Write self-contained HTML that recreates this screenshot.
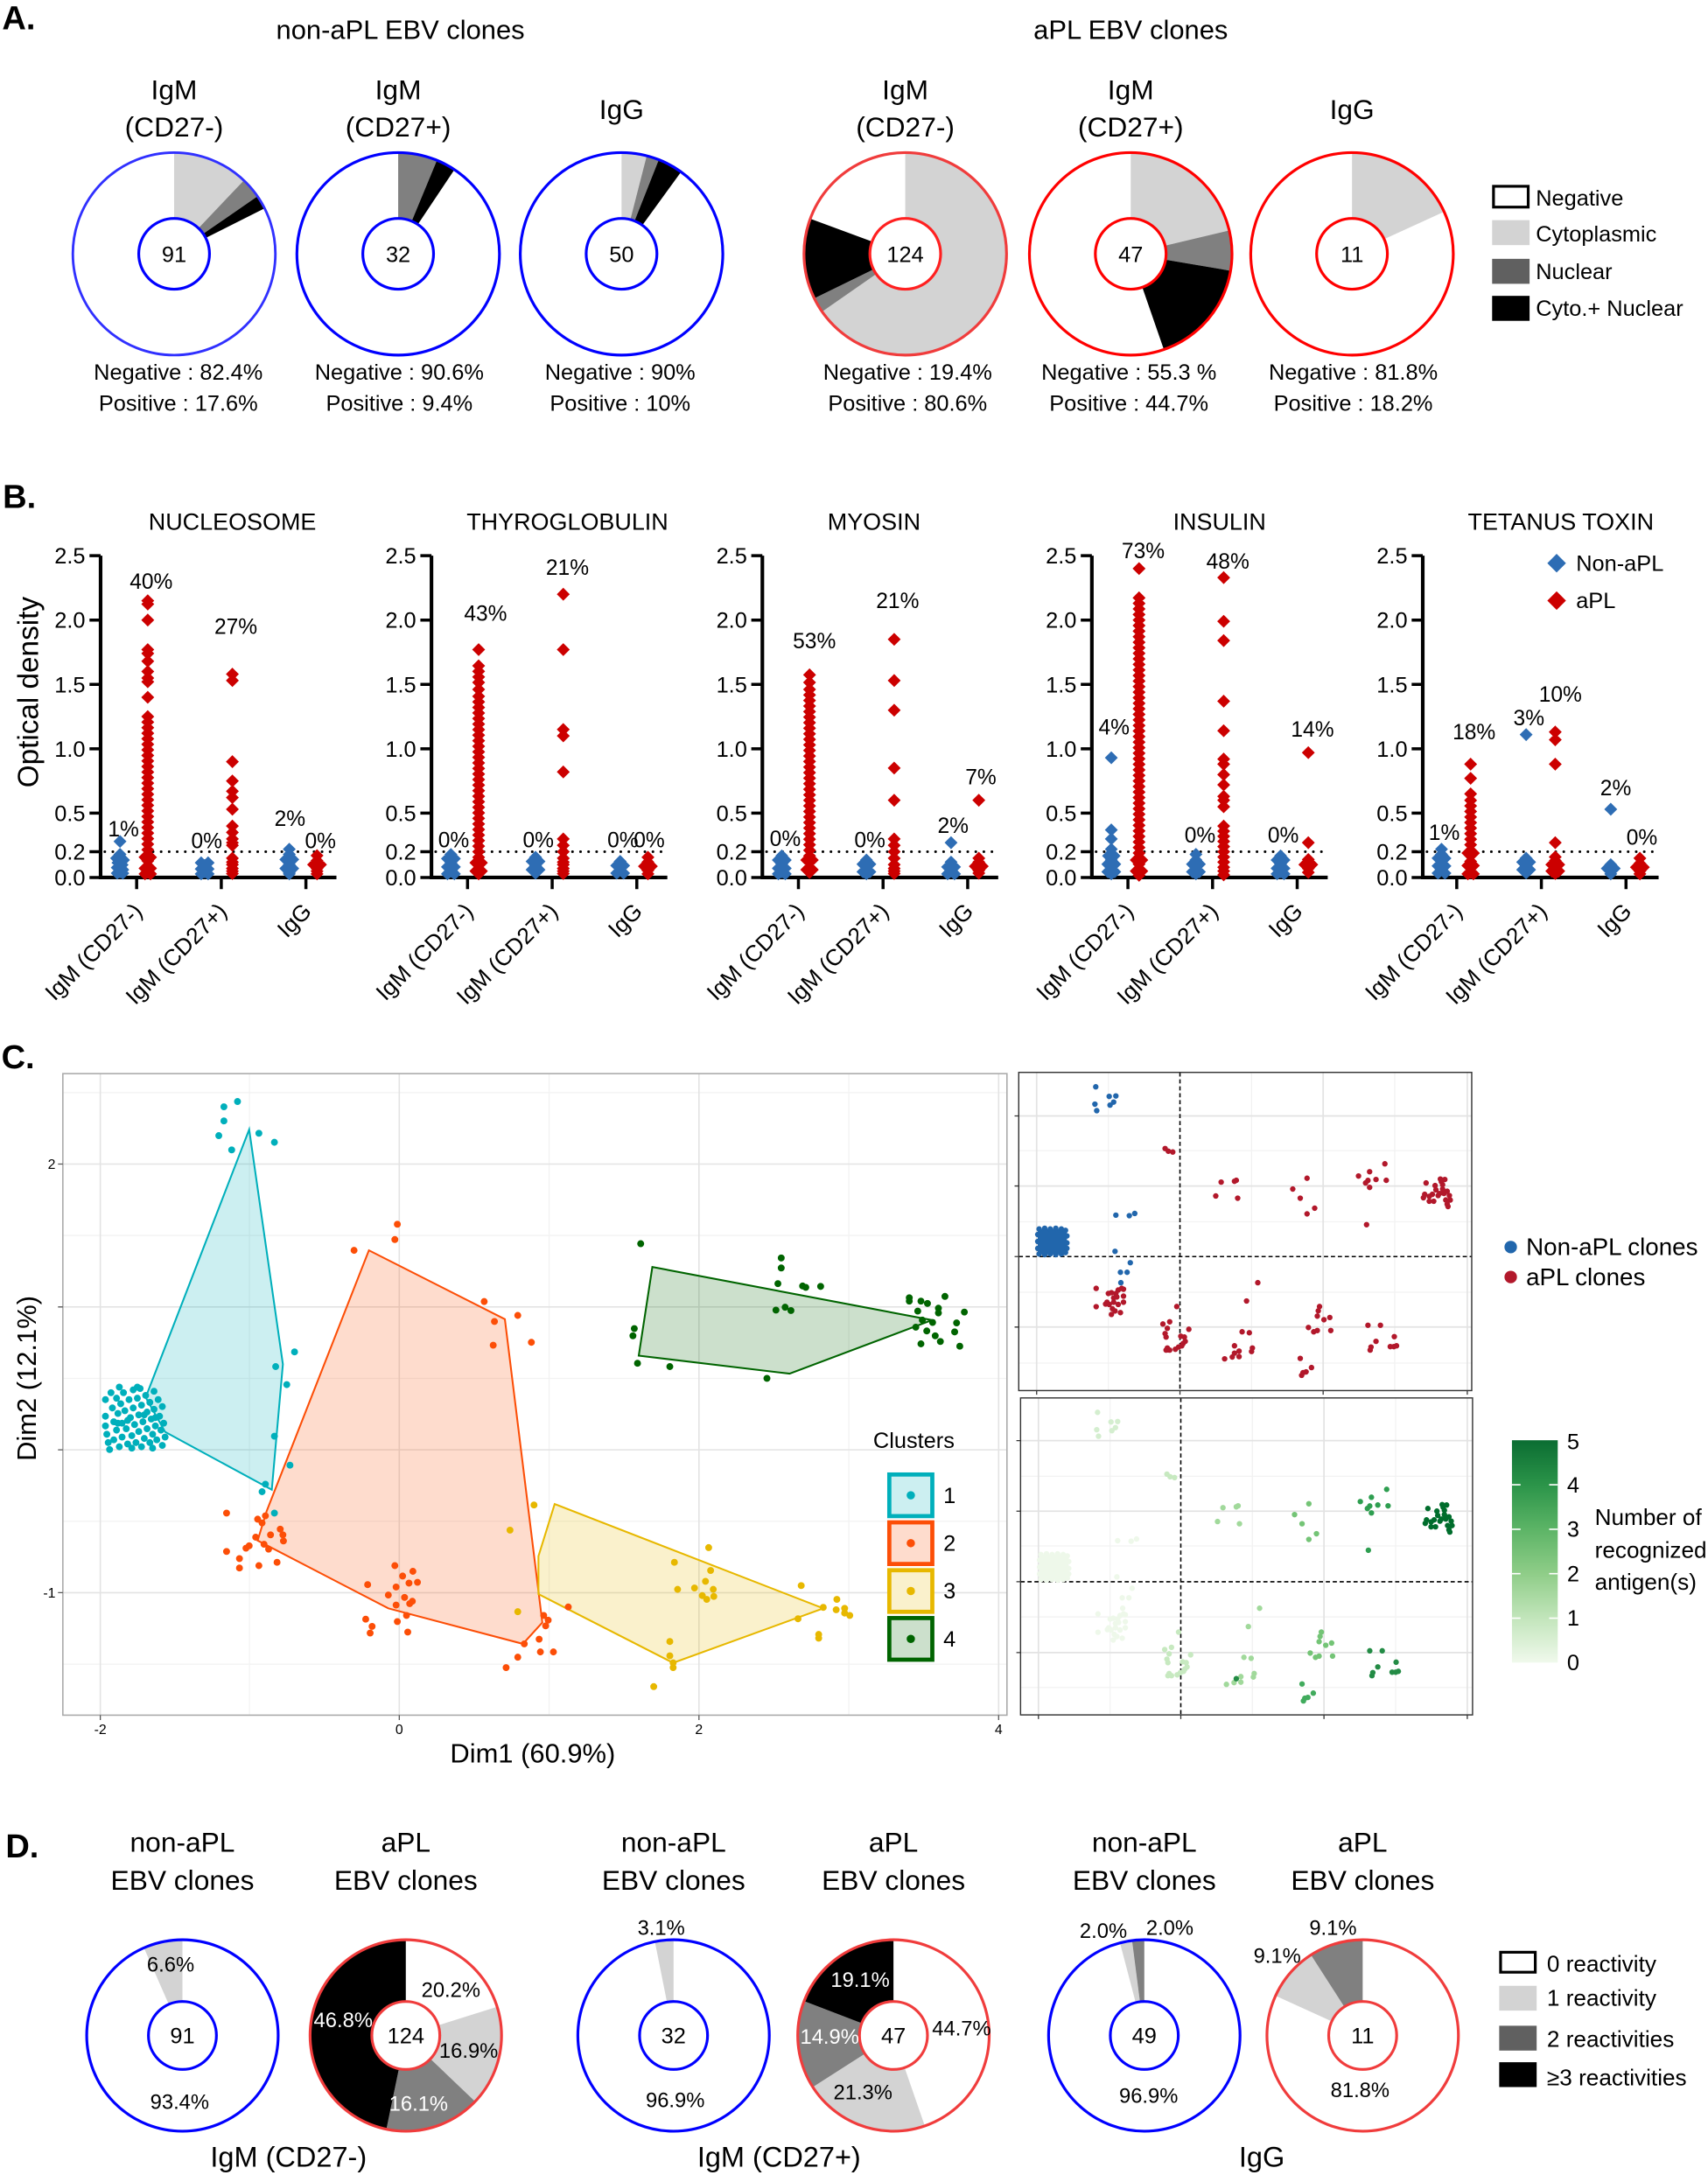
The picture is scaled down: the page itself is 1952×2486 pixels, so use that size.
<!DOCTYPE html>
<html><head><meta charset="utf-8">
<style>
html,body{margin:0;padding:0;background:#fff}
svg{display:block}
text{font-family:"Liberation Sans",sans-serif;fill:#000}
</style></head>
<body>
<svg xmlns="http://www.w3.org/2000/svg" width="1952" height="2486" viewBox="0 0 1231.1 1568" preserveAspectRatio="none">
<rect x="0" y="0" width="1231.1" height="1568" fill="#fff"/>
<defs>
<linearGradient id="cb" x1="0" y1="0" x2="0" y2="1">
<stop offset="0" stop-color="#0b6d32"/><stop offset="0.2" stop-color="#2b9449"/><stop offset="0.4" stop-color="#5cb466"/><stop offset="0.6" stop-color="#8fcd88"/><stop offset="0.8" stop-color="#c2e5bb"/><stop offset="1" stop-color="#f0f9ec"/>
</linearGradient>
</defs>

<!-- ================= PANEL A ================= -->
<text x="1.5" y="21" font-size="24" font-weight="bold">A.</text>
<text x="288.6" y="28" font-size="19.5" text-anchor="middle">non-aPL EBV clones</text>
<text x="815" y="28" font-size="19.5" text-anchor="middle">aPL EBV clones</text>
<g font-size="20" text-anchor="middle">
<text x="125.5" y="71.5">IgM</text><text x="125.5" y="98.5">(CD27-)</text>
<text x="287" y="71.5">IgM</text><text x="287" y="98.5">(CD27+)</text>
<text x="448" y="85.7">IgG</text>
<text x="652.5" y="71.5">IgM</text><text x="652.5" y="98.5">(CD27-)</text>
<text x="815" y="71.5">IgM</text><text x="815" y="98.5">(CD27+)</text>
<text x="974.5" y="85.7">IgG</text>
</g>
<!-- pie 1 -->
<path d="M125.5 183L125.5 110A73 73 0 0 1 175.75 130.05Z" fill="#d3d3d3"/>
<path d="M125.5 183L175.75 130.05A73 73 0 0 1 185.59 141.55Z" fill="#808080"/>
<path d="M125.5 183L185.59 141.55A73 73 0 0 1 190.72 150.2Z" fill="#000"/>
<circle cx="125.5" cy="183" r="73" fill="none" stroke="#3030ff" stroke-width="1.8"/>
<circle cx="125.5" cy="183" r="25.5" fill="#fff" stroke="#0000ff" stroke-width="2"/>
<!-- pie 2 -->
<path d="M287 183L287 110A73 73 0 0 1 314.94 115.56Z" fill="#808080"/>
<path d="M287 183L314.94 115.56A73 73 0 0 1 327.56 122.3Z" fill="#000"/>
<circle cx="287" cy="183" r="73" fill="none" stroke="#0000ff" stroke-width="2"/>
<circle cx="287" cy="183" r="25.5" fill="#fff" stroke="#0000ff" stroke-width="2"/>
<!-- pie 3 -->
<path d="M448 183L448 110A73 73 0 0 1 466.16 112.29Z" fill="#d3d3d3"/>
<path d="M448 183L466.16 112.29A73 73 0 0 1 474.87 115.12Z" fill="#808080"/>
<path d="M448 183L474.87 115.12A73 73 0 0 1 490.91 123.94Z" fill="#000"/>
<circle cx="448" cy="183" r="73" fill="none" stroke="#0000ff" stroke-width="2"/>
<circle cx="448" cy="183" r="25.5" fill="#fff" stroke="#0000ff" stroke-width="2"/>
<!-- pie 4 -->
<path d="M652.5 183L652.5 110A73 73 0 1 1 592.56 224.66Z" fill="#d3d3d3"/>
<path d="M652.5 183L592.56 224.66A73 73 0 0 1 586.95 215.11Z" fill="#808080"/>
<path d="M652.5 183L586.95 215.11A73 73 0 0 1 584.03 157.68Z" fill="#000"/>
<circle cx="652.5" cy="183" r="73" fill="none" stroke="#f03c3c" stroke-width="2"/>
<circle cx="652.5" cy="183" r="25.5" fill="#fff" stroke="#ff2020" stroke-width="2"/>
<!-- pie 5 -->
<path d="M815 183L815 110A73 73 0 0 1 886.01 166.09Z" fill="#d3d3d3"/>
<path d="M815 183L886.01 166.09A73 73 0 0 1 886.98 195.18Z" fill="#808080"/>
<path d="M815 183L886.98 195.18A73 73 0 0 1 838.89 251.98Z" fill="#000"/>
<circle cx="815" cy="183" r="73" fill="none" stroke="#ff0000" stroke-width="2"/>
<circle cx="815" cy="183" r="25.5" fill="#fff" stroke="#ff0000" stroke-width="2"/>
<!-- pie 6 -->
<path d="M974.5 183L974.5 110A73 73 0 0 1 1040.9 152.66Z" fill="#d3d3d3"/>
<circle cx="974.5" cy="183" r="73" fill="none" stroke="#ff0000" stroke-width="2"/>
<circle cx="974.5" cy="183" r="25.5" fill="#fff" stroke="#ff0000" stroke-width="2"/>
<g font-size="16" text-anchor="middle">
<text x="125.5" y="189">91</text><text x="287" y="189">32</text><text x="448" y="189">50</text>
<text x="652.5" y="189">124</text><text x="815" y="189">47</text><text x="974.5" y="189">11</text>
</g>
<g font-size="16" text-anchor="middle">
<text x="128.5" y="273.7">Negative : 82.4%</text><text x="128.5" y="296">Positive : 17.6%</text>
<text x="287.8" y="273.7">Negative : 90.6%</text><text x="287.8" y="296">Positive : 9.4%</text>
<text x="447" y="273.7">Negative : 90%</text><text x="447" y="296">Positive : 10%</text>
<text x="654.2" y="273.7">Negative : 19.4%</text><text x="654.2" y="296">Positive : 80.6%</text>
<text x="813.7" y="273.7">Negative : 55.3 %</text><text x="813.7" y="296">Positive : 44.7%</text>
<text x="975.4" y="273.7">Negative : 81.8%</text><text x="975.4" y="296">Positive : 18.2%</text>
</g>
<!-- legend A -->
<rect x="1076.5" y="134.3" width="25" height="15" fill="#fff" stroke="#000" stroke-width="2"/>
<rect x="1075.5" y="158.7" width="27" height="18" fill="#d3d3d3"/>
<rect x="1075.5" y="186.6" width="27" height="18" fill="#606060"/>
<rect x="1075.5" y="213.3" width="27" height="18" fill="#000"/>
<g font-size="16">
<text x="1107" y="148.3">Negative</text>
<text x="1107" y="174.2">Cytoplasmic</text>
<text x="1107" y="201.2">Nuclear</text>
<text x="1107" y="227.7">Cyto.+ Nuclear</text>
</g>

<!-- ================= PANEL B ================= -->
<text x="2" y="366" font-size="24" font-weight="bold">B.</text>
<g font-size="17" text-anchor="middle">
<text x="167.5" y="382">NUCLEOSOME</text>
<text x="409" y="382">THYROGLOBULIN</text>
<text x="630" y="382">MYOSIN</text>
<text x="879" y="382">INSULIN</text>
<text x="1125" y="382">TETANUS TOXIN</text>
</g>
<text transform="translate(27.5 499) rotate(-90)" font-size="21" text-anchor="middle">Optical density</text>

<g transform="translate(72.5 0)">
<path d="M0 400.6V632.6H170" fill="none" stroke="#000" stroke-width="2.6"/>
<path d="M-8 400.6H0M-8 447H0M-8 493.4H0M-8 539.8H0M-8 586.2H0M-8 614H0M-8 632.6H0M26 632.6V641M87 632.6V641M148 632.6V641" stroke="#000" stroke-width="2.2"/>
<line x1="3" y1="614" x2="170" y2="614" stroke="#000" stroke-width="1.8" stroke-dasharray="0.1 5.7" stroke-linecap="round"/>
<g font-size="16" text-anchor="end"><text x="-11" y="406.3">2.5</text><text x="-11" y="452.7">2.0</text><text x="-11" y="499.1">1.5</text><text x="-11" y="545.5">1.0</text><text x="-11" y="591.9">0.5</text><text x="-11" y="619.8">0.2</text><text x="-11" y="638.3">0.0</text></g>
<g font-size="16.5" text-anchor="end"><text transform="translate(31 658) rotate(-45)">IgM (CD27-)</text><text transform="translate(92 658) rotate(-45)">IgM (CD27+)</text><text transform="translate(153 658) rotate(-45)">IgG</text></g>
</g>
<g transform="translate(311 0)">
<path d="M0 400.6V632.6H170" fill="none" stroke="#000" stroke-width="2.6"/>
<path d="M-8 400.6H0M-8 447H0M-8 493.4H0M-8 539.8H0M-8 586.2H0M-8 614H0M-8 632.6H0M26 632.6V641M87 632.6V641M148 632.6V641" stroke="#000" stroke-width="2.2"/>
<line x1="3" y1="614" x2="170" y2="614" stroke="#000" stroke-width="1.8" stroke-dasharray="0.1 5.7" stroke-linecap="round"/>
<g font-size="16" text-anchor="end"><text x="-11" y="406.3">2.5</text><text x="-11" y="452.7">2.0</text><text x="-11" y="499.1">1.5</text><text x="-11" y="545.5">1.0</text><text x="-11" y="591.9">0.5</text><text x="-11" y="619.8">0.2</text><text x="-11" y="638.3">0.0</text></g>
<g font-size="16.5" text-anchor="end"><text transform="translate(31 658) rotate(-45)">IgM (CD27-)</text><text transform="translate(92 658) rotate(-45)">IgM (CD27+)</text><text transform="translate(153 658) rotate(-45)">IgG</text></g>
</g>
<g transform="translate(549.5 0)">
<path d="M0 400.6V632.6H170" fill="none" stroke="#000" stroke-width="2.6"/>
<path d="M-8 400.6H0M-8 447H0M-8 493.4H0M-8 539.8H0M-8 586.2H0M-8 614H0M-8 632.6H0M26 632.6V641M87 632.6V641M148 632.6V641" stroke="#000" stroke-width="2.2"/>
<line x1="3" y1="614" x2="170" y2="614" stroke="#000" stroke-width="1.8" stroke-dasharray="0.1 5.7" stroke-linecap="round"/>
<g font-size="16" text-anchor="end"><text x="-11" y="406.3">2.5</text><text x="-11" y="452.7">2.0</text><text x="-11" y="499.1">1.5</text><text x="-11" y="545.5">1.0</text><text x="-11" y="591.9">0.5</text><text x="-11" y="619.8">0.2</text><text x="-11" y="638.3">0.0</text></g>
<g font-size="16.5" text-anchor="end"><text transform="translate(31 658) rotate(-45)">IgM (CD27-)</text><text transform="translate(92 658) rotate(-45)">IgM (CD27+)</text><text transform="translate(153 658) rotate(-45)">IgG</text></g>
</g>
<g transform="translate(787 0)">
<path d="M0 400.6V632.6H170" fill="none" stroke="#000" stroke-width="2.6"/>
<path d="M-8 400.6H0M-8 447H0M-8 493.4H0M-8 539.8H0M-8 586.2H0M-8 614H0M-8 632.6H0M26 632.6V641M87 632.6V641M148 632.6V641" stroke="#000" stroke-width="2.2"/>
<line x1="3" y1="614" x2="170" y2="614" stroke="#000" stroke-width="1.8" stroke-dasharray="0.1 5.7" stroke-linecap="round"/>
<g font-size="16" text-anchor="end"><text x="-11" y="406.3">2.5</text><text x="-11" y="452.7">2.0</text><text x="-11" y="499.1">1.5</text><text x="-11" y="545.5">1.0</text><text x="-11" y="591.9">0.5</text><text x="-11" y="619.8">0.2</text><text x="-11" y="638.3">0.0</text></g>
<g font-size="16.5" text-anchor="end"><text transform="translate(31 658) rotate(-45)">IgM (CD27-)</text><text transform="translate(92 658) rotate(-45)">IgM (CD27+)</text><text transform="translate(153 658) rotate(-45)">IgG</text></g>
</g>
<g transform="translate(1025.5 0)">
<path d="M0 400.6V632.6H170" fill="none" stroke="#000" stroke-width="2.6"/>
<path d="M-8 400.6H0M-8 447H0M-8 493.4H0M-8 539.8H0M-8 586.2H0M-8 614H0M-8 632.6H0M24.5 632.6V641M85.5 632.6V641M146.5 632.6V641" stroke="#000" stroke-width="2.2"/>
<line x1="3" y1="614" x2="170" y2="614" stroke="#000" stroke-width="1.8" stroke-dasharray="0.1 5.7" stroke-linecap="round"/>
<g font-size="16" text-anchor="end"><text x="-11" y="406.3">2.5</text><text x="-11" y="452.7">2.0</text><text x="-11" y="499.1">1.5</text><text x="-11" y="545.5">1.0</text><text x="-11" y="591.9">0.5</text><text x="-11" y="619.8">0.2</text><text x="-11" y="638.3">0.0</text></g>
<g font-size="16.5" text-anchor="end"><text transform="translate(29.5 658) rotate(-45)">IgM (CD27-)</text><text transform="translate(90.5 658) rotate(-45)">IgM (CD27+)</text><text transform="translate(151.5 658) rotate(-45)">IgG</text></g>
</g>

<!-- B blue diamonds -->
<path fill="none" stroke="#2e6db4" stroke-width="6.6" stroke-linecap="square" d="
M86.5 606.6l.01 .01M86.5 615.9l.01 .01M84 618.7l.01 .01M89 620l.01 .01M85 622l.01 .01M88 623.5l.01 .01M84.5 625.5l.01 .01M88.5 627l.01 .01M86.5 628.5l.01 .01M84.5 629.5l.01 .01M88.5 629.5l.01 .01
M145 622l.01 .01M150 622l.01 .01M147.5 624l.01 .01M145 626.5l.01 .01M150 626.5l.01 .01M147.5 628.5l.01 .01M145 630l.01 .01M150 630l.01 .01
M208.5 612.2l.01 .01M208.5 615.9l.01 .01M206 619.6l.01 .01M211 619.6l.01 .01M208.5 623.3l.01 .01M206 626.1l.01 .01M211 626.1l.01 .01M208.5 628.9l.01 .01M208.5 630l.01 .01
M325 616l.01 .01M322.5 619l.01 .01M327.5 619l.01 .01M325 622l.01 .01M322.5 625l.01 .01M327.5 625l.01 .01M325 628l.01 .01M322.5 630l.01 .01M327.5 630l.01 .01
M386 618l.01 .01M383.5 621l.01 .01M388.5 621l.01 .01M386 624l.01 .01M383.5 627l.01 .01M388.5 627l.01 .01M386 629.5l.01 .01
M447 621l.01 .01M444.5 624l.01 .01M449.5 624l.01 .01M447 627l.01 .01M444.5 629.5l.01 .01M449.5 629.5l.01 .01
M563.5 617l.01 .01M561 620l.01 .01M566 620l.01 .01M563.5 623l.01 .01M561 626l.01 .01M566 626l.01 .01M563.5 628.5l.01 .01M561 630l.01 .01M566 630l.01 .01
M624.5 620l.01 .01M622 623l.01 .01M627 623l.01 .01M624.5 626l.01 .01M622 628.5l.01 .01M627 628.5l.01 .01M624.5 630l.01 .01
M685.5 607.5l.01 .01M685.5 621.5l.01 .01M683 625l.01 .01M688 625l.01 .01M685.5 628l.01 .01M683 630l.01 .01M688 630l.01 .01
M801 546.3l.01 .01M801 598.3l.01 .01M801 604.8l.01 .01M801 612.2l.01 .01M799 617l.01 .01M803 617l.01 .01M801 620l.01 .01M798.5 623l.01 .01M803.5 623l.01 .01M801 626l.01 .01M798.5 628.5l.01 .01M803.5 628.5l.01 .01M801 630l.01 .01
M862 615.9l.01 .01M862 620l.01 .01M859.5 623l.01 .01M864.5 623l.01 .01M862 626l.01 .01M859.5 628.5l.01 .01M864.5 628.5l.01 .01M862 630l.01 .01
M923 617l.01 .01M920.5 620l.01 .01M925.5 620l.01 .01M923 623l.01 .01M920.5 626l.01 .01M925.5 626l.01 .01M923 628.5l.01 .01M920.5 630l.01 .01M925.5 630l.01 .01
M1039 612.2l.01 .01M1039 615.9l.01 .01M1036.5 618.7l.01 .01M1041.5 618.7l.01 .01M1039 621.5l.01 .01M1036.5 624.3l.01 .01M1041.5 624.3l.01 .01M1039 627l.01 .01M1036.5 629.5l.01 .01M1041.5 629.5l.01 .01
M1100 529.6l.01 .01M1100 618.7l.01 .01M1097.5 621.5l.01 .01M1102.5 621.5l.01 .01M1100 624.3l.01 .01M1097.5 627l.01 .01M1102.5 627l.01 .01M1100 629.3l.01 .01
M1161 583.4l.01 .01M1161 623.3l.01 .01M1158.5 626.1l.01 .01M1163.5 626.1l.01 .01M1161 628l.01 .01M1161 630l.01 .01"/>

<!-- B red diamonds -->
<path fill="none" stroke="#cc0000" stroke-width="6.6" stroke-linecap="square" d="
M106.5 433.1l.01 .01M106.5 435.5l.01 .01M106.5 447l.01 .01M106.5 468.3l.01 .01M106.5 471.1l.01 .01M106.5 476.7l.01 .01M106.5 484.1l.01 .01M106.5 488.8l.01 .01M106.5 491.5l.01 .01M106.5 502.7l.01 .01
M106.5 516.6l.01 .01M106.5 520.6l.01 .01M106.5 524.6l.01 .01M106.5 528.6l.01 .01M106.5 532.6l.01 .01M106.5 536.6l.01 .01M106.5 540.6l.01 .01M106.5 544.6l.01 .01M106.5 548.6l.01 .01M106.5 552.6l.01 .01M106.5 556.6l.01 .01M106.5 560.6l.01 .01M106.5 564.6l.01 .01M106.5 568.6l.01 .01M106.5 572.6l.01 .01M106.5 576.6l.01 .01M106.5 580.6l.01 .01M106.5 584.6l.01 .01M106.5 588.6l.01 .01M106.5 592.6l.01 .01M106.5 596.6l.01 .01M106.5 600.6l.01 .01M106.5 604.6l.01 .01M106.5 608.6l.01 .01M106.5 612.6l.01 .01M106.5 616.6l.01 .01M106.5 620.6l.01 .01M106.5 624.6l.01 .01M106.5 628.6l.01 .01M104.5 618l.01 .01M108.5 618l.01 .01M104.5 626l.01 .01M108.5 626l.01 .01M104.5 630l.01 .01M108.5 630l.01 .01
M167.5 486l.01 .01M167.5 490.6l.01 .01M167.5 549.1l.01 .01M167.5 563l.01 .01M167.5 570.4l.01 .01M167.5 575l.01 .01M167.5 583.4l.01 .01M167.5 595.5l.01 .01M167.5 600.1l.01 .01M167.5 604.8l.01 .01M167.5 607.5l.01 .01M167.5 609.4l.01 .01M167.5 618.7l.01 .01M167.5 621.5l.01 .01M167.5 623.3l.01 .01M167.5 626.1l.01 .01M167.5 628l.01 .01M167.5 629.8l.01 .01
M228.5 616.8l.01 .01M228.5 620.5l.01 .01M226 623.3l.01 .01M231 623.3l.01 .01M228.5 626.1l.01 .01M228.5 628l.01 .01M228.5 630l.01 .01
M345 468.3l.01 .01M345 480l.01 .01M345 484l.01 .01M345 488l.01 .01M345 492l.01 .01M345 497l.01 .01M345 502l.01 .01M345 506l.01 .01M345 510l.01 .01M345 514l.01 .01M345 518l.01 .01M345 522l.01 .01M345 526l.01 .01M345 530l.01 .01M345 534l.01 .01M345 538l.01 .01M345 542l.01 .01M345 546l.01 .01M345 550l.01 .01M345 554l.01 .01M345 558l.01 .01M345 562l.01 .01M345 566l.01 .01M345 570l.01 .01M345 574l.01 .01M345 578l.01 .01M345 582l.01 .01M345 586l.01 .01M345 590l.01 .01M345 594l.01 .01M345 598l.01 .01M345 602l.01 .01M345 606l.01 .01M345 610l.01 .01M345 614l.01 .01M345 618l.01 .01M345 622l.01 .01M345 626l.01 .01M345 630l.01 .01M343 622l.01 .01M347 622l.01 .01M343 628l.01 .01M347 628l.01 .01
M406 428.4l.01 .01M406 468.3l.01 .01M406 525.9l.01 .01M406 530.5l.01 .01M406 556.5l.01 .01M406 604.8l.01 .01M406 609.4l.01 .01M406 614l.01 .01M406 618.7l.01 .01M406 621.5l.01 .01M406 623.3l.01 .01M406 626.1l.01 .01M406 628l.01 .01M406 629.8l.01 .01
M467 618l.01 .01M467 621.5l.01 .01M464.5 624.5l.01 .01M469.5 624.5l.01 .01M467 627.5l.01 .01M467 630l.01 .01
M583.5 486.5l.01 .01M583.5 492l.01 .01M583.5 497l.01 .01M583.5 501l.01 .01M583.5 505l.01 .01M583.5 509l.01 .01M583.5 513l.01 .01M583.5 517l.01 .01M583.5 521l.01 .01M583.5 525l.01 .01M583.5 529l.01 .01M583.5 533l.01 .01M583.5 537l.01 .01M583.5 541l.01 .01M583.5 545l.01 .01M583.5 549l.01 .01M583.5 553l.01 .01M583.5 557l.01 .01M583.5 561l.01 .01M583.5 565l.01 .01M583.5 569l.01 .01M583.5 573l.01 .01M583.5 577l.01 .01M583.5 581l.01 .01M583.5 585l.01 .01M583.5 589l.01 .01M583.5 593l.01 .01M583.5 597l.01 .01M583.5 601l.01 .01M583.5 605l.01 .01M583.5 609l.01 .01M583.5 613l.01 .01M583.5 617l.01 .01M583.5 621l.01 .01M583.5 625l.01 .01M583.5 629l.01 .01M581.5 620l.01 .01M585.5 620l.01 .01M581.5 627l.01 .01M585.5 627l.01 .01
M644.5 460.9l.01 .01M644.5 490.6l.01 .01M644.5 512l.01 .01M644.5 553.7l.01 .01M644.5 576.9l.01 .01M644.5 604.8l.01 .01M644.5 609.4l.01 .01M644.5 614l.01 .01M644.5 618.7l.01 .01M644.5 623.3l.01 .01M644.5 626.1l.01 .01M644.5 628l.01 .01M644.5 629.8l.01 .01
M705.5 576.9l.01 .01M705.5 618.7l.01 .01M705.5 621.5l.01 .01M703 624.5l.01 .01M708 624.5l.01 .01M705.5 627.5l.01 .01M705.5 629.5l.01 .01
M821 409.9l.01 .01M821 431l.01 .01M821 435l.01 .01M821 439l.01 .01M821 443l.01 .01M821 447l.01 .01M821 451l.01 .01M821 455l.01 .01M821 459l.01 .01M821 463l.01 .01M821 467l.01 .01M821 471l.01 .01M821 475l.01 .01M821 479l.01 .01M821 483l.01 .01M821 487l.01 .01M821 491l.01 .01M821 495l.01 .01M821 499l.01 .01M821 503l.01 .01M821 507l.01 .01M821 511l.01 .01M821 515l.01 .01M821 519l.01 .01M821 523l.01 .01M821 527l.01 .01M821 531l.01 .01M821 535l.01 .01M821 539l.01 .01M821 543l.01 .01M821 547l.01 .01M821 551l.01 .01M821 555l.01 .01M821 559l.01 .01M821 563l.01 .01M821 567l.01 .01M821 571l.01 .01M821 575l.01 .01M821 579l.01 .01M821 583l.01 .01M821 587l.01 .01M821 591l.01 .01M821 595l.01 .01M821 599l.01 .01M821 603l.01 .01M821 607l.01 .01M821 611l.01 .01M821 615l.01 .01M821 619l.01 .01M821 623l.01 .01M821 627l.01 .01M821 631l.01 .01M819 620l.01 .01M823 620l.01 .01M819 628l.01 .01M823 628l.01 .01
M882 416.4l.01 .01M882 447.9l.01 .01M882 461.8l.01 .01M882 505.5l.01 .01M882 526.8l.01 .01M882 547.2l.01 .01M882 550.9l.01 .01M882 558.4l.01 .01M882 565.8l.01 .01M882 574.1l.01 .01M882 576.9l.01 .01M882 581.6l.01 .01M882 595.5l.01 .01M882 599.2l.01 .01M882 602.9l.01 .01M882 606.6l.01 .01M882 610.3l.01 .01M882 614l.01 .01M882 617.8l.01 .01M882 621.5l.01 .01M882 625.2l.01 .01M882 628l.01 .01M882 630.7l.01 .01
M943 542.6l.01 .01M943 607.5l.01 .01M943 619.6l.01 .01M940.5 623.3l.01 .01M945.5 623.3l.01 .01M943 626.1l.01 .01M943 628.9l.01 .01
M1060 550.9l.01 .01M1060 561.1l.01 .01M1060 572.3l.01 .01M1060 577l.01 .01M1060 581l.01 .01M1060 585l.01 .01M1060 589l.01 .01M1060 593l.01 .01M1060 597l.01 .01M1060 601l.01 .01M1060 605l.01 .01M1060 609l.01 .01M1060 613l.01 .01M1060 617l.01 .01M1060 621l.01 .01M1060 625l.01 .01M1060 629l.01 .01M1058 615l.01 .01M1062 615l.01 .01M1058 624l.01 .01M1062 624l.01 .01M1058 630l.01 .01M1062 630l.01 .01
M1121 527.7l.01 .01M1121 533.3l.01 .01M1121 550.9l.01 .01M1121 607.5l.01 .01M1121 617.8l.01 .01M1121 620.5l.01 .01M1118.5 623.3l.01 .01M1123.5 623.3l.01 .01M1121 626.1l.01 .01M1118.5 628l.01 .01M1123.5 628l.01 .01M1121 629.8l.01 .01
M1182 618.7l.01 .01M1182 622.5l.01 .01M1179.5 625.2l.01 .01M1184.5 625.2l.01 .01M1182 628l.01 .01M1182 630l.01 .01"/>

<!-- B percent labels -->
<g font-size="15.5" text-anchor="middle">
<text x="89" y="603">1%</text><text x="109" y="424.5">40%</text><text x="149" y="611.5">0%</text><text x="170" y="457">27%</text><text x="209" y="595.5">2%</text><text x="231" y="611.5">0%</text>
<text x="327" y="611">0%</text><text x="350" y="447.5">43%</text><text x="388" y="611">0%</text><text x="409" y="414.5">21%</text><text x="449" y="611">0%</text><text x="468" y="611">0%</text>
<text x="566" y="610">0%</text><text x="587" y="467.5">53%</text><text x="627" y="611">0%</text><text x="647" y="438.5">21%</text><text x="687" y="600.5">2%</text><text x="707" y="565.5">7%</text>
<text x="803" y="529.5">4%</text><text x="824" y="402.5">73%</text><text x="865" y="607.5">0%</text><text x="885" y="410">48%</text><text x="925" y="607.5">0%</text><text x="946" y="531">14%</text>
<text x="1041" y="605.5">1%</text><text x="1062.5" y="533">18%</text><text x="1102" y="523">3%</text><text x="1124.7" y="506">10%</text><text x="1164.6" y="573.5">2%</text><text x="1183.5" y="609">0%</text>
</g>
<!-- B legend -->
<path d="M1122 406l.01 .01" stroke="#2e6db4" stroke-width="9.5" stroke-linecap="square"/>
<path d="M1122 433l.01 .01" stroke="#cc0000" stroke-width="9.5" stroke-linecap="square"/>
<text x="1136" y="411.5" font-size="16">Non-aPL</text>
<text x="1136" y="438.5" font-size="16">aPL</text>

<!-- ================= PANEL C ================= -->
<text x="1" y="770" font-size="24" font-weight="bold">C.</text>
<rect x="45.3" y="774" width="680.5" height="462.5" fill="#fff"/>
<path stroke="#f2f2f2" stroke-width="0.8" fill="none" d="M179.8 774V1236.5M395.8 774V1236.5M611.8 774V1236.5M45.3 787.7H725.8M45.3 890.7H725.8M45.3 993.7H725.8M45.3 1096.7H725.8M45.3 1199.7H725.8"/>
<path stroke="#e3e3e3" stroke-width="1" fill="none" d="M72.3 774V1236.5M287.8 774V1236.5M503.8 774V1236.5M719.8 774V1236.5M45.3 839.2H725.8M45.3 942.2H725.8M45.3 1045.2H725.8M45.3 1148.2H725.8"/>
<polygon points="179.6,814.3 203.9,983.5 195.9,1074 119,1032.3 105,1007.4" fill="#00AFBB" fill-opacity="0.2" stroke="#00AFBB" stroke-width="1.3"/>
<polygon points="265.9,901.4 363.9,951 390.9,1169.7 376.9,1185.1 279.9,1159.5 185.7,1110.6 192.2,1089.4" fill="#FC4E07" fill-opacity="0.2" stroke="#FC4E07" stroke-width="1.3"/>
<polygon points="399.8,1084.3 593.4,1159.5 485.2,1198.8 388.1,1149.2 388.1,1121.9" fill="#E7B800" fill-opacity="0.2" stroke="#E7B800" stroke-width="1.3"/>
<polygon points="470.2,913.4 671.8,951.7 569.1,990.3 460.4,977.3" fill="#006400" fill-opacity="0.2" stroke="#006400" stroke-width="1.3"/>
<path fill="none" stroke="#00AFBB" stroke-width="5" stroke-linecap="round" d="M76 1009h0M76 1021h0M76 1028h0M77 1034h0M78 1040h0M80 1004h0M81 1015h0M82 1025h0M82 1038h0M84 1008h0M84 1031h0M85 1019h0M86 1043h0M87 1012h0M88 1026h0M88 1036h0M89 1004h0M90 1017h0M91 1030h0M92 1041h0M93 1009h0M94 1022h0M95 1035h0M96 1002h0M96 1015h0M97 1027h0M98 1040h0M99 1008h0M100 1020h0M100 1032h0M101 1001h0M102 1013h0M102 1043h0M103 1025h0M104 1037h0M105 1006h0M106 1018h0M106 1030h0M108 1011h0M108 1040h0M109 1023h0M110 1034h0M111 1003h0M111 1016h0M112 1028h0M113 1038h0M114 1009h0M115 1021h0M116 1031h0M117 1014h0M117 1042h0M118 1026h0M119 1036h0M79 1045h0M95 1044h0M110 1044h0M86 1000h0M99 1000h0M92 1024h0M104 1020h0M85 1026h0M112 1022h0
M171.2 794.1h0M161.4 797.9h0M161.4 808.1h0M157.7 818.7h0M167 829h0M186.6 817h0M197.8 823.5h0M212.3 974.6h0M198.7 985.2h0M206.7 998.2h0M197.8 1035.4h0M209 1056.3h0M191.3 1070h0M188.9 1075.4h0M197.8 1090.8h0"/>
<path fill="none" stroke="#FC4E07" stroke-width="5" stroke-linecap="round" d="M286.4 882.6h0M284.6 893.6h0M255.2 901.4h0M349 938.3h0M356.4 952.7h0M373.2 948.3h0M355.5 969.8h0M383 967.7h0
M163.3 1090.8h0M185.7 1095.2h0M188.9 1097.9h0M191.3 1092.8h0M202 1102.4h0M203.9 1106.5h0M204.3 1110.9h0M195 1106.5h0M190.3 1113.3h0M179.6 1114.4h0M177.3 1116.1h0M193.6 1116.8h0M163.3 1118.5h0M172.6 1123.6h0M186.6 1128.7h0M199.7 1126.3h0M172.6 1130.4h0M184.3 1108.2h0
M284.6 1128.7h0M297.6 1132.8h0M290.2 1136.2h0M265 1142.4h0M300.9 1140.7h0M294.8 1141.3h0M285.5 1144.1h0M279.9 1149.9h0M291.6 1151.6h0M297.2 1154.4h0M295.3 1156.1h0M285.5 1157.1h0M263.6 1167.3h0M268.2 1172.5h0M266.8 1177.3h0M286.4 1169h0M293 1164.6h0M293.9 1176.6h0
M391.9 1164.6h0M395.1 1168h0M393.3 1172.1h0M388.6 1181.7h0M377.9 1185.1h0M389.5 1190.9h0M398.9 1190.9h0M373.2 1194.7h0M364.8 1202.2h0M409.6 1158.5h0"/>
<path fill="none" stroke="#E7B800" stroke-width="5" stroke-linecap="round" d="M384.9 1085h0M367.6 1103.1h0M373.2 1161.9h0M510.8 1115.7h0M486.1 1126.3h0M512.2 1132.2h0M508.5 1140h0M500.6 1144.8h0M488.4 1145.8h0M514.1 1145.8h0M506.2 1150.3h0M514.5 1150.9h0M509.4 1153h0M577.5 1143.1h0M603.2 1153h0M593.4 1158.8h0M602.7 1160.5h0M608.8 1159.5h0M608.8 1162.9h0M612.5 1164.6h0M575.2 1167h0M590.1 1178.3h0M590.1 1181h0M482.8 1183.4h0M482.8 1193.7h0M485.2 1198.8h0M485.2 1202.2h0M471.2 1215.9h0"/>
<path fill="none" stroke="#006400" stroke-width="5" stroke-linecap="round" d="M461.8 896.6h0M563.1 906.9h0M563.1 914.1h0M560.7 925.4h0M578.5 927.1h0M580.8 928.1h0M591.5 927.4h0M559.3 944.5h0M565.9 942.4h0M570.1 944.8h0M681.1 934.6h0M655.4 935.6h0M655.4 938h0M663.8 938h0M668.5 939.7h0M676.4 943.1h0M676.4 946.5h0M661.5 945.2h0M664.8 951.7h0M672.2 953.4h0M689.5 953.7h0M695.1 945.9h0M660.1 956.8h0M668 959.5h0M674.1 963h0M688.1 960.2h0M663.8 968.8h0M677.8 967.1h0M691.8 970.5h0M457.2 957.8h0M456.2 963h0M459.5 982.8h0M482.8 985.2h0M552.8 993.7h0"/>
<rect x="45.3" y="774" width="680.5" height="462.5" fill="none" stroke="#aaaaaa" stroke-width="1"/>
<path stroke="#555" stroke-width="0.8" d="M72.3 1236.5V1240M287.8 1236.5V1240M503.8 1236.5V1240M719.8 1236.5V1240M41.8 839.2H45.3M41.8 942.2H45.3M41.8 1045.2H45.3M41.8 1148.2H45.3"/>
<g font-size="10" text-anchor="middle">
<text x="72.3" y="1250" fill="#4d4d4d">-2</text><text x="287.8" y="1250" fill="#4d4d4d">0</text><text x="503.8" y="1250" fill="#4d4d4d">2</text><text x="719.8" y="1250" fill="#4d4d4d">4</text>
</g>
<g font-size="10" text-anchor="end"><text x="40" y="842.8" fill="#4d4d4d">2</text><text x="40" y="1151.8" fill="#4d4d4d">-1</text></g>
<text x="384" y="1270.5" font-size="19.5" text-anchor="middle">Dim1 (60.9%)</text>
<text transform="translate(26 993.7) rotate(-90)" font-size="19.5" text-anchor="middle">Dim2 (12.1%)</text>
<text x="658.7" y="1044" font-size="16" text-anchor="middle">Clusters</text>
<rect x="641" y="1063" width="31" height="30" fill="#ccefF1" stroke="#00AFBB" stroke-width="3"/>
<rect x="641" y="1097.5" width="31" height="30" fill="#fedccd" stroke="#FC4E07" stroke-width="3"/>
<rect x="641" y="1132" width="31" height="30" fill="#faf1cc" stroke="#E7B800" stroke-width="3"/>
<rect x="641" y="1166.5" width="31" height="30" fill="#cce0cc" stroke="#006400" stroke-width="3"/>
<circle cx="656.5" cy="1078" r="3" fill="#00AFBB"/>
<circle cx="656.5" cy="1112.5" r="3" fill="#FC4E07"/>
<circle cx="656.5" cy="1147" r="3" fill="#E7B800"/>
<circle cx="656.5" cy="1181.5" r="3" fill="#006400"/>
<g font-size="16"><text x="680" y="1083.5">1</text><text x="680" y="1118">2</text><text x="680" y="1152.5">3</text><text x="680" y="1187">4</text></g>

<!-- right upper panel -->
<rect x="734.3" y="773.1" width="326.5" height="229.4" fill="#fff"/>
<path stroke="#f2f2f2" stroke-width="0.8" fill="none" d="M798.9 773.1V1002.5M902.1 773.1V1002.5M1005.3 773.1V1002.5M734.3 829.6H1060.8M734.3 880.8H1060.8M734.3 931.6H1060.8M734.3 982.7H1060.8"/>
<path stroke="#e3e3e3" stroke-width="1.1" fill="none" d="M747.2 773.1V1002.5M953.7 773.1V1002.5M1057.6 773.1V1002.5M734.3 804.5H1060.8M734.3 855H1060.8M734.3 956.7H1060.8"/>
<path stroke="#000" stroke-width="1" stroke-dasharray="3 2" d="M850.5 773.1V1002.5M734.3 905.9H1060.8"/>
<rect x="748" y="886" width="21" height="18" rx="2" fill="#2166ac"/>
<path fill="none" stroke="#2166ac" stroke-width="4" stroke-linecap="round" d="M749 886h0M753 885.5h0M757 886h0M761 885.5h0M765 886h0M768 887h0M749 904h0M753 904.5h0M757 904h0M761 904.5h0M765 904h0M768 903h0M748 890h0M748 895h0M748 900h0M769 891h0M769 896h0M769 900h0
M789.8 783.5h0M789.2 796h0M790.5 800.7h0M799.5 790.4h0M804.3 790.1h0M802.7 794.5h0M800.1 796.7h0M804.3 876h0M814 876.4h0M817.9 874.8h0M803.7 902.1h0M814.7 910.3h0M807.6 917.2h0M812.4 917.2h0M807.9 924.7h0"/>
<path fill="none" stroke="#b2182b" stroke-width="4" stroke-linecap="round" d="M839.8 828h0M842.1 829.9h0M845.3 830.5h0
M880.2 852.2h0M889.8 851.6h0M891.1 850.9h0M876.3 862.2h0M892.1 863.8h0
M942.1 849.4h0M931.8 857.2h0M937.2 863.8h0M947.6 871h0M942.1 875.1h0
M979.2 847.8h0M987.2 844.7h0M998.2 839h0M991.8 850.3h0M999.2 850.9h0M984.3 852.8h0M987.2 856h0M985 882.9h0M986 851h0
M1027.9 852.8h0M1034.4 854.7h0M1038.2 850h0M1041.4 850.3h0M1038.9 851.9h0M1032.4 861h0M1026.9 861h0M1026 863.5h0M1030.2 866h0M1033.4 866h0M1039.8 857.2h0M1043.1 858.8h0M1044.7 861.9h0M1040.8 860.4h0M1036.6 861.9h0M1042.1 865.1h0M1045.3 865.1h0M1043.1 868.2h0M1043.7 869.8h0M1037.6 860.4h0M1035 857.8h0M1039.8 854.1h0M1030.2 862.5h0
M790.1 928.8h0M798.9 932.5h0M801.1 931.9h0M804.3 932.5h0M806 930h0M808.5 928.8h0M809.8 929.4h0M802.7 935.7h0M805 935h0M809.8 934.4h0M797.9 938.8h0M799.5 940.4h0M796.9 940.1h0M802.7 938.8h0M806 940.4h0M809.8 938.8h0M801.8 943.5h0M801.1 947.6h0M803.7 945.1h0M807.6 946.3h0M790.1 942h0
M848.2 941.9h0M838.2 954.5h0M843.1 952.9h0M841.4 957.6h0M839.8 961.4h0M840.5 963.9h0M841.4 971.8h0M840.5 973.3h0M843.1 973.3h0M847.2 972.7h0M849.5 971.1h0M851.8 970.2h0M854.3 967h0M853.7 963.9h0M856.9 958.3h0M851.1 963.3h0M852.7 968.6h0
M906.6 924.7h0M898.5 937.9h0M895.3 960.1h0M900.5 960.8h0M889.8 970.2h0M893.1 974h0M902.7 971.8h0M902.1 974.3h0M888.2 978.3h0M882.7 979.6h0M893.1 978h0M889.8 975.5h0
M951.1 941.9h0M950.2 945h0M949.5 948.8h0M954.3 951.4h0M958.5 949.8h0M943.1 957h0M946.9 960.1h0M949.5 959.2h0M959.2 959.2h0
M937.2 979.3h0M945.3 985.9h0M941.4 989h0M938.2 991.5h0M939.2 989.6h0
M986 955.4h0M995 955.4h0M1005 963.6h0M991.8 967h0M988.2 971.1h0M987.6 973.3h0M1002.1 970.8h0M1004.7 970.8h0M1006.6 970.2h0"/>
<rect x="734.3" y="773.1" width="326.5" height="229.4" fill="none" stroke="#333" stroke-width="0.9"/>
<path stroke="#333" stroke-width="0.8" d="M747.2 1002.5V1005.5M850.5 1002.5V1005.5M953.7 1002.5V1005.5M1057.6 1002.5V1005.5M731.3 804.5H734.3M731.3 855H734.3M731.3 905.9H734.3M731.3 956.7H734.3"/>

<!-- right lower panel -->
<rect x="735.6" y="1007.8" width="325.8" height="228.5" fill="#fff"/>
<path stroke="#f2f2f2" stroke-width="0.8" fill="none" d="M800.1 1007.8V1236.3M902.7 1007.8V1236.3M1006 1007.8V1236.3M735.6 1064.3H1061.4M735.6 1114.5H1061.4M735.6 1165.7H1061.4M735.6 1216.5H1061.4"/>
<path stroke="#e3e3e3" stroke-width="1.1" fill="none" d="M748.5 1007.8V1236.3M954.3 1007.8V1236.3M1057.6 1007.8V1236.3M735.6 1038.6H1061.4M735.6 1089.4H1061.4M735.6 1191.4H1061.4"/>
<path stroke="#000" stroke-width="1" stroke-dasharray="3 2" d="M851.1 1007.8V1236.3M735.6 1140.3H1061.4"/>
<g transform="translate(1.3 234.7)">
<rect x="748" y="886" width="21" height="18" rx="2" fill="#eef8ea"/>
<path fill="none" stroke-width="4" stroke-linecap="round" stroke="#eef8ea" d="M749 886h0M753 885.5h0M757 886h0M761 885.5h0M765 886h0M768 887h0M749 904h0M753 904.5h0M757 904h0M761 904.5h0M765 904h0M768 903h0M748 890h0M748 895h0M748 900h0M769 891h0M769 896h0M769 900h0M790.1 928.8h0M798.9 932.5h0M801.1 931.9h0M804.3 932.5h0M806 930h0M808.5 928.8h0M809.8 929.4h0M802.7 935.7h0M805 935h0M809.8 934.4h0M797.9 938.8h0M799.5 940.4h0M796.9 940.1h0M802.7 938.8h0M806 940.4h0M809.8 938.8h0M801.8 943.5h0M801.1 947.6h0M803.7 945.1h0M807.6 946.3h0M790.1 942h0M804.3 876h0M814 876.4h0M817.9 874.8h0M803.7 902.1h0M814.7 910.3h0M807.6 917.2h0M812.4 917.2h0M807.9 924.7h0"/>
<path fill="none" stroke-width="4" stroke-linecap="round" stroke="#d4eecf" d="M789.8 783.5h0M789.2 796h0M790.5 800.7h0M799.5 790.4h0M804.3 790.1h0M802.7 794.5h0M800.1 796.7h0"/>
<path fill="none" stroke-width="4" stroke-linecap="round" stroke="#c7e9c0" d="M839.8 828h0M842.1 829.9h0M845.3 830.5h0M848.2 941.9h0M838.2 954.5h0M843.1 952.9h0M841.4 957.6h0M839.8 961.4h0M840.5 963.9h0M841.4 971.8h0M840.5 973.3h0M843.1 973.3h0M847.2 972.7h0M849.5 971.1h0M851.8 970.2h0M854.3 967h0M853.7 963.9h0M856.9 958.3h0M851.1 963.3h0M852.7 968.6h0"/>
<path fill="none" stroke-width="4" stroke-linecap="round" stroke="#a1d99b" d="M880.2 852.2h0M889.8 851.6h0M891.1 850.9h0M876.3 862.2h0M892.1 863.8h0M906.6 924.7h0M898.5 937.9h0M895.3 960.1h0M900.5 960.8h0M893.1 974h0M902.7 971.8h0M902.1 974.3h0M888.2 978.3h0M882.7 979.6h0M893.1 978h0"/>
<path fill="none" stroke-width="4" stroke-linecap="round" stroke="#238b45" d="M889.8 975.5h0M986 955.4h0M995 955.4h0M1005 963.6h0M991.8 967h0M988.2 971.1h0M987.6 973.3h0M1002.1 970.8h0M1004.7 970.8h0M1006.6 970.2h0"/>
<path fill="none" stroke-width="4" stroke-linecap="round" stroke="#74c476" d="M942.1 849.4h0M931.8 857.2h0M937.2 863.8h0M947.6 871h0M942.1 875.1h0M951.1 941.9h0M950.2 945h0M949.5 948.8h0M954.3 951.4h0M958.5 949.8h0M943.1 957h0M946.9 960.1h0M949.5 959.2h0M959.2 959.2h0"/>
<path fill="none" stroke-width="4" stroke-linecap="round" stroke="#41ab5d" d="M937.2 979.3h0M945.3 985.9h0M941.4 989h0M938.2 991.5h0M939.2 989.6h0"/>
<path fill="none" stroke-width="4" stroke-linecap="round" stroke="#2e9e50" d="M979.2 847.8h0M987.2 844.7h0M998.2 839h0M991.8 850.3h0M999.2 850.9h0M984.3 852.8h0M987.2 856h0M985 882.9h0M986 851h0"/>
<path fill="none" stroke-width="4" stroke-linecap="round" stroke="#006d2c" d="M1027.9 852.8h0M1034.4 854.7h0M1038.2 850h0M1041.4 850.3h0M1038.9 851.9h0M1032.4 861h0M1026.9 861h0M1026 863.5h0M1030.2 866h0M1033.4 866h0M1039.8 857.2h0M1043.1 858.8h0M1044.7 861.9h0M1040.8 860.4h0M1036.6 861.9h0M1042.1 865.1h0M1045.3 865.1h0M1043.1 868.2h0M1043.7 869.8h0M1037.6 860.4h0M1035 857.8h0M1039.8 854.1h0M1030.2 862.5h0"/>
</g>
<rect x="735.6" y="1007.8" width="325.8" height="228.5" fill="none" stroke="#333" stroke-width="0.9"/>
<path stroke="#333" stroke-width="0.8" d="M748.5 1236.3V1239.3M851.1 1236.3V1239.3M954.3 1236.3V1239.3M1057.6 1236.3V1239.3M732.6 1038.6H735.6M732.6 1089.4H735.6M732.6 1140.3H735.6M732.6 1191.4H735.6"/>
<circle cx="1088.9" cy="899" r="4.5" fill="#2166ac"/>
<circle cx="1088.9" cy="920.6" r="4.5" fill="#b2182b"/>
<text x="1100" y="904.8" font-size="17.5">Non-aPL clones</text>
<text x="1100" y="926.4" font-size="17.5">aPL clones</text>
<rect x="1089.8" y="1038.3" width="33" height="160.3" fill="url(#cb)"/>
<path stroke="#fff" stroke-width="1" d="M1089.8 1070.4H1096M1116.6 1070.4H1122.8M1089.8 1102.5H1096M1116.6 1102.5H1122.8M1089.8 1134.5H1096M1116.6 1134.5H1122.8M1089.8 1166.6H1096M1116.6 1166.6H1122.8"/>
<g font-size="16"><text x="1129.5" y="1044.8">5</text><text x="1129.5" y="1076">4</text><text x="1129.5" y="1108">3</text><text x="1129.5" y="1140">2</text><text x="1129.5" y="1172">1</text><text x="1129.5" y="1204">0</text></g>
<g font-size="16.5"><text x="1149.5" y="1099.5">Number of</text><text x="1149.5" y="1123">recognized</text><text x="1149.5" y="1146">antigen(s)</text></g>

<!-- ================= PANEL D ================= -->
<text x="4" y="1339" font-size="24" font-weight="bold">D.</text>
<g font-size="20" text-anchor="middle">
<text x="131.5" y="1335">non-aPL</text><text x="131.5" y="1362.5">EBV clones</text>
<text x="292.5" y="1335">aPL</text><text x="292.5" y="1362.5">EBV clones</text>
<text x="485.5" y="1335">non-aPL</text><text x="485.5" y="1362.5">EBV clones</text>
<text x="644" y="1335">aPL</text><text x="644" y="1362.5">EBV clones</text>
<text x="824.8" y="1335">non-aPL</text><text x="824.8" y="1362.5">EBV clones</text>
<text x="982.2" y="1335">aPL</text><text x="982.2" y="1362.5">EBV clones</text>
</g>
<path d="M131.5 1467.4L103.77 1404.22A69 69 0 0 1 131.5 1398.4Z" fill="#d3d3d3"/>
<circle cx="131.5" cy="1467.4" r="69" fill="none" stroke="#0000ff" stroke-width="2"/>
<circle cx="131.5" cy="1467.4" r="24.5" fill="#fff" stroke="#0000ff" stroke-width="2"/>
<path d="M292.5 1467.4L358.34 1446.77A69 69 0 0 1 342.47 1514.98Z" fill="#d3d3d3"/>
<path d="M292.5 1467.4L342.47 1514.98A69 69 0 0 1 278.51 1534.96Z" fill="#808080"/>
<path d="M292.5 1467.4L278.51 1534.96A69 69 0 0 1 292.5 1398.4Z" fill="#000"/>
<circle cx="292.5" cy="1467.4" r="69" fill="none" stroke="#f03c3c" stroke-width="2"/>
<circle cx="292.5" cy="1467.4" r="24.5" fill="#fff" stroke="#f03c3c" stroke-width="2"/>
<path d="M485.5 1467.4L472.04 1399.72A69 69 0 0 1 485.5 1398.4Z" fill="#d3d3d3"/>
<circle cx="485.5" cy="1467.4" r="69" fill="none" stroke="#0000ff" stroke-width="2"/>
<circle cx="485.5" cy="1467.4" r="24.5" fill="#fff" stroke="#0000ff" stroke-width="2"/>
<path d="M644 1467.4L666.58 1532.6A69 69 0 0 1 585.87 1504.58Z" fill="#d3d3d3"/>
<path d="M644 1467.4L585.87 1504.58A69 69 0 0 1 579.58 1442.67Z" fill="#808080"/>
<path d="M644 1467.4L579.58 1442.67A69 69 0 0 1 644 1398.4Z" fill="#000"/>
<circle cx="644" cy="1467.4" r="69" fill="none" stroke="#f03c3c" stroke-width="2"/>
<circle cx="644" cy="1467.4" r="24.5" fill="#fff" stroke="#f03c3c" stroke-width="2"/>
<path d="M824.8 1467.4L807.29 1400.66A69 69 0 0 1 815.97 1398.97Z" fill="#d3d3d3"/>
<path d="M824.8 1467.4L815.97 1398.97A69 69 0 0 1 824.8 1398.4Z" fill="#808080"/>
<circle cx="824.8" cy="1467.4" r="69" fill="none" stroke="#0000ff" stroke-width="2"/>
<circle cx="824.8" cy="1467.4" r="24.5" fill="#fff" stroke="#0000ff" stroke-width="2"/>
<path d="M982.2 1467.4L919.41 1438.79A69 69 0 0 1 944.93 1409.34Z" fill="#d3d3d3"/>
<path d="M982.2 1467.4L944.93 1409.34A69 69 0 0 1 982.2 1398.4Z" fill="#808080"/>
<circle cx="982.2" cy="1467.4" r="69" fill="none" stroke="#f03c3c" stroke-width="2"/>
<circle cx="982.2" cy="1467.4" r="24.5" fill="#fff" stroke="#f03c3c" stroke-width="2"/>
<g font-size="16" text-anchor="middle">
<text x="131.5" y="1473">91</text><text x="292.5" y="1473">124</text><text x="485.5" y="1473">32</text>
<text x="644" y="1473">47</text><text x="824.8" y="1473">49</text><text x="982.2" y="1473">11</text>
</g>
<g font-size="15" text-anchor="middle">
<text x="123" y="1421.5">6.6%</text><text x="129.5" y="1520.5">93.4%</text>
<text x="325" y="1439.5">20.2%</text><text x="247.4" y="1461.5" style="fill:#fff">46.8%</text><text x="337.8" y="1483.5">16.9%</text><text x="301.7" y="1521.5" style="fill:#fff">16.1%</text>
<text x="476.6" y="1395">3.1%</text><text x="486.7" y="1519">96.9%</text>
<text x="620" y="1432.5" style="fill:#fff">19.1%</text><text x="598" y="1473.5" style="fill:#fff">14.9%</text><text x="622" y="1513.5">21.3%</text><text x="693.1" y="1467.5">44.7%</text>
<text x="795.3" y="1397">2.0%</text><text x="843.2" y="1395">2.0%</text><text x="827.9" y="1516">96.9%</text>
<text x="960.8" y="1395">9.1%</text><text x="920.6" y="1415">9.1%</text><text x="980.3" y="1512">81.8%</text>
</g>
<g font-size="20.5" text-anchor="middle">
<text x="208" y="1562">IgM (CD27-)</text>
<text x="561.5" y="1562">IgM (CD27+)</text>
<text x="909.5" y="1562">IgG</text>
</g>
<rect x="1081.6" y="1407.4" width="25" height="14.4" fill="#fff" stroke="#000" stroke-width="2"/>
<rect x="1080.6" y="1431.6" width="27" height="17.9" fill="#d3d3d3"/>
<rect x="1080.6" y="1460.4" width="27" height="17.9" fill="#606060"/>
<rect x="1080.6" y="1486.7" width="27" height="17.9" fill="#000"/>
<g font-size="16.5">
<text x="1115" y="1421.5">0 reactivity</text>
<text x="1115" y="1446">1 reactivity</text>
<text x="1115" y="1475.5">2 reactivities</text>
<text x="1115" y="1503.5">≥3 reactivities</text>
</g>
</svg>
</body></html>
